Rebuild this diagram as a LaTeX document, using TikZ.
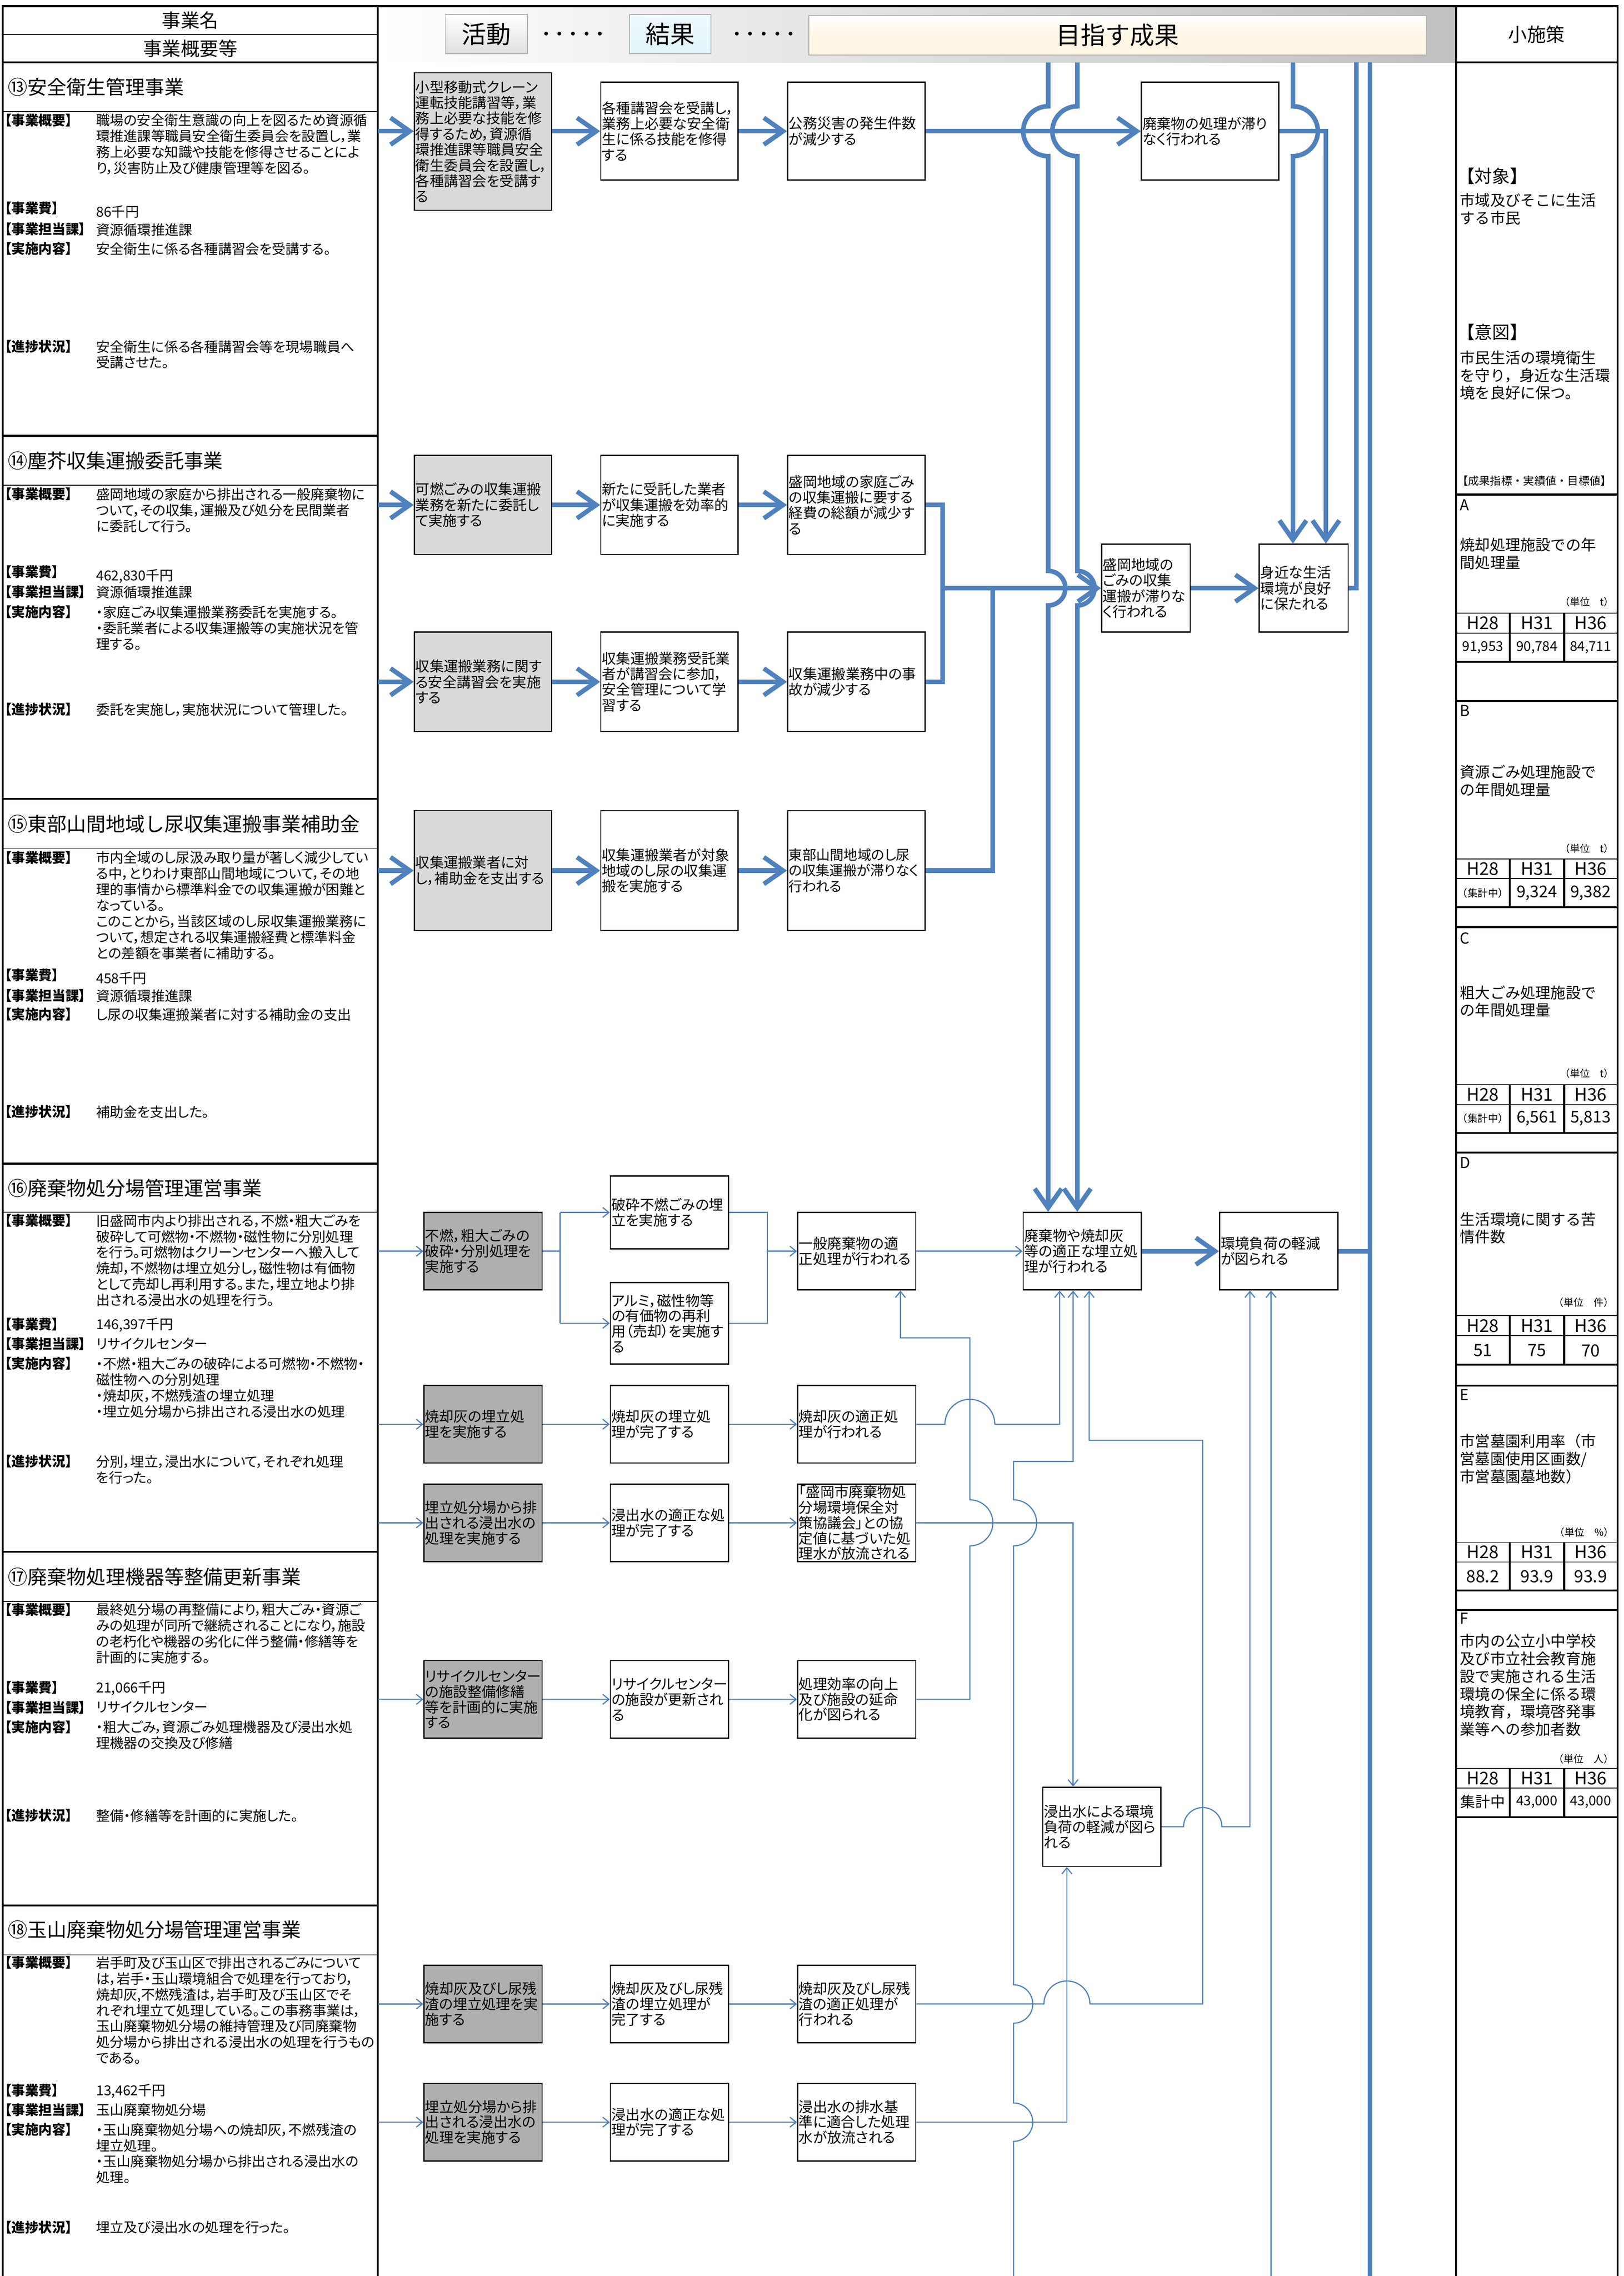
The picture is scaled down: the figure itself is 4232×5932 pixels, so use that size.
\documentclass[tikz,border=0pt]{standalone}
\usepackage{fontspec}
\setmainfont{Noto Sans CJK JP}
\newfontfamily\pfont[RawFeature=+palt]{Noto Sans CJK JP}
\usetikzlibrary{positioning,arrows.meta,calc}

\definecolor{flowblue}{RGB}{79,129,189}
\definecolor{actgray}{RGB}{217,217,217}
\definecolor{lowgray}{RGB}{175,175,175}
\definecolor{barend}{RGB}{192,192,192}
\definecolor{resblue}{RGB}{226,245,250}
\definecolor{goalcream}{RGB}{255,246,230}

\newcommand{\boxfont}{\pfont\fontsize{10.55pt}{11.6pt}\selectfont}
\newcommand{\lowfont}{\pfont\fontsize{10.6pt}{11.4pt}\selectfont}
\newcommand{\bodyfont}{\pfont\fontsize{10.2pt}{11.8pt}\selectfont}
\newcommand{\lblfont}{\pfont\fontsize{10pt}{11pt}\selectfont\bfseries}
\newcommand{\ttlfont}{\fontsize{14.5pt}{16pt}\selectfont}
\newcommand{\rcfont}{\fontsize{11.2pt}{13.1pt}\selectfont}

\begin{document}
\begin{tikzpicture}[x=0.1mm,y=-0.1mm,
  rulethick/.style={line width=1.4pt},
  hair/.style={line width=0.6pt},
  actbox/.style={draw,line width=0.9pt,fill=actgray,font=\boxfont,align=left,inner xsep=0.3mm,inner ysep=0.6mm,text width=35.2mm},
  resbox/.style={actbox,fill=white},
  lowact/.style={draw,line width=0.9pt,fill=lowgray,font=\lowfont,align=left,inner xsep=0.3mm,inner ysep=0.2mm,text width=30.2mm,minimum height=20.2mm},
  lowres/.style={lowact,fill=white},
  fatline/.style={draw=flowblue,line width=1.2mm},
  fatarrow/.style={fatline,-{Straight Barb[length=5mm,width=7mm]}},
  thinline/.style={draw=flowblue,line width=0.3mm},
  thinarrow/.style={thinline,-{Straight Barb[length=1.6mm,width=2.6mm]}},
  ttl/.style={anchor=west,font=\ttlfont,inner sep=0},
  lbl/.style={anchor=west,font=\lblfont,inner sep=0},
  body/.style={anchor=north west,font=\bodyfont,align=left,inner sep=0},
  hdr/.style={font=\fontsize{14pt}{16pt}\selectfont,inner sep=0},
  tabbox/.style={draw=black!30,line width=0.6pt,font=\fontsize{18.2pt}{20pt}\selectfont,minimum height=10.2mm,inner sep=0},
  dotrow/.style={font=\fontsize{10pt}{12pt}\selectfont\bfseries,inner sep=0},
  rctext/.style={anchor=north west,font=\rcfont,align=left,inner sep=0},
  rchead/.style={anchor=west,font=\fontsize{13.1pt}{15pt}\selectfont,inner sep=0},
  hcell/.style={font=\fontsize{13pt}{15pt}\selectfont,inner sep=0},
  vcell/.style={font=\fontsize{10pt}{12pt}\selectfont,inner sep=0},
  unitlbl/.style={anchor=east,font=\fontsize{7.4pt}{9pt}\selectfont,inner sep=0}
]
\useasboundingbox (0,0) rectangle (4232,5932);

% header band
\shade[left color=white,right color=barend] (985,16) rectangle (3795,163);
\draw[rulethick] (7,5932) -- (7,16) -- (4216,16) -- (4216,5932);
\draw[rulethick] (985,16) -- (985,5932);
\draw[rulethick] (3795,16) -- (3795,5932);
\draw[rulethick] (7,163) -- (985,163);
\draw[rulethick] (3795,163) -- (4216,163);
\draw[hair] (7,90) -- (985,90);
\foreach \y in {1136,2082,3033,4044,4966}
  \draw[rulethick] (7,\y) -- (985,\y);
\foreach \y in {291,1265,2212,3159,4174,5095}
  \draw[hair] (7,\y) -- (985,\y);

\node[hdr] (hname) at (496,53) {事業名};
\node[hdr] (hsum) at (496,127) {事業概要等};
\node[tabbox,top color=white,bottom color=black!12,minimum width=21.4mm] (tact) at (1268,89) {活動};
\node[dotrow] (dots1) at (1494,92) {・・・・・};
\node[tabbox,top color=resblue!60,bottom color=resblue,minimum width=21.3mm] (tres) at (1747,89) {結果};
\node[dotrow] (dots2) at (1991,92) {・・・・・};
\node[tabbox,top color=white,bottom color=goalcream,middle color=goalcream,minimum width=160.9mm,minimum height=10.4mm] (tgoal) at (2913,92) {目指す成果};
\node[hdr] (hsub) at (4005,90) {小施策};

% lane positions
\coordinate (top) at (0,163);
\coordinate (bot) at (0,5932);
\coordinate (lin) at (985,0);
\coordinate (xL1) at (2732,0);
\coordinate (xL2) at (2808,0);
\coordinate (xL3) at (3370,0);
\coordinate (xL4) at (3456,0);
\coordinate (xL5) at (3535,0);
\coordinate (xL6) at (3571,0);
\coordinate (xJ) at (2457,0);
\coordinate (xK) at (2587,0);
\coordinate (xB1) at (1460,0);
\coordinate (xB2) at (2000,0);
\coordinate (xA) at (2528,0);
\coordinate (xE3) at (2347,0);
\coordinate (xW) at (2762,0);
\coordinate (xI) at (2642,0);
\coordinate (xI2) at (2797,0);
\coordinate (xR) at (3135,0);
\coordinate (xI3) at (2839,0);
\coordinate (xJK) at (2781,0);
\coordinate (xE5a) at (3258,0);
\coordinate (xE5b) at (3313,0);
\coordinate (tapA) at (0,3487);
\coordinate (tapI) at (0,3809);
\coordinate (tapR) at (0,3754);

% section 13
\node[ttl] (s13) at (20,227) {⑬安全衛生管理事業};
\node[lbl] (s13k) at (12,313) {【事業概要】};
\node[body] (s13kb) at (250,296) {職場の安全衛生意識の向上を図るため資源循\\環推進課等職員安全衛生委員会を設置し，業\\務上必要な知識や技能を修得させることによ\\り，災害防止及び健康管理等を図る。};
\node[lbl] (s13h) at (12,543) {【事業費】};
\node[body] (s13hb) at (250,535) {86千円};
\node[lbl] (s13c) at (12,597) {【事業担当課】};
\node[body] (s13cb) at (250,582) {資源循環推進課};
\node[lbl] (s13j) at (12,648) {【実施内容】};
\node[body] (s13jb) at (250,631) {安全衛生に係る各種講習会を受講する。};
\node[lbl] (s13s) at (12,903) {【進捗状況】};
\node[body] (s13sb) at (250,886) {安全衛生に係る各種講習会等を現場職員へ\\受講させた。};

% section 14
\node[ttl] (s14) at (20,1201) {⑭塵芥収集運搬委託事業};
\node[lbl] (s14k) at (12,1288) {【事業概要】};
\node[body] (s14kb) at (250,1271) {盛岡地域の家庭から排出される一般廃棄物に\\ついて，その収集，運搬及び処分を民間業者\\に委託して行う。};
\node[lbl] (s14h) at (12,1491) {【事業費】};
\node[body] (s14hb) at (250,1483) {462,830千円};
\node[lbl] (s14c) at (12,1543) {【事業担当課】};
\node[body] (s14cb) at (250,1526) {資源循環推進課};
\node[lbl] (s14j) at (12,1595) {【実施内容】};
\node[body] (s14jb) at (250,1578) {・家庭ごみ収集運搬業務委託を実施する。\\・委託業者による収集運搬等の実施状況を管\\理する。};
\node[lbl] (s14s) at (12,1849) {【進捗状況】};
\node[body] (s14sb) at (250,1832) {委託を実施し，実施状況について管理した。};

% section 15
\node[ttl] (s15) at (20,2147) {⑮東部山間地域し尿収集運搬事業補助金};
\node[lbl] (s15k) at (12,2235) {【事業概要】};
\node[body] (s15kb) at (250,2218) {市内全域のし尿汲み取り量が著しく減少してい\\る中，とりわけ東部山間地域について，その地\\理的事情から標準料金での収集運搬が困難と\\なっている。\\このことから，当該区域のし尿収集運搬業務に\\ついて，想定される収集運搬経費と標準料金\\との差額を事業者に補助する。};
\node[lbl] (s15h) at (12,2541) {【事業費】};
\node[body] (s15hb) at (250,2533) {458千円};
\node[lbl] (s15c) at (12,2595) {【事業担当課】};
\node[body] (s15cb) at (250,2578) {資源循環推進課};
\node[lbl] (s15j) at (12,2644) {【実施内容】};
\node[body] (s15jb) at (250,2627) {し尿の収集運搬業者に対する補助金の支出};
\node[lbl] (s15s) at (12,2898) {【進捗状況】};
\node[body] (s15sb) at (250,2881) {補助金を支出した。};

% section 16
\node[ttl] (s16) at (20,3097) {⑯廃棄物処分場管理運営事業};
\node[lbl] (s16k) at (12,3181) {【事業概要】};
\node[body] (s16kb) at (250,3164) {旧盛岡市内より排出される，不燃・粗大ごみを\\破砕して可燃物・不燃物・磁性物に分別処理\\を行う。可燃物はクリーンセンターへ搬入して\\焼却，不燃物は埋立処分し，磁性物は有価物\\として売却し再利用する。また，埋立地より排\\出される浸出水の処理を行う。};
\node[lbl] (s16h) at (12,3451) {【事業費】};
\node[body] (s16hb) at (250,3434) {146,397千円};
\node[lbl] (s16c) at (12,3503) {【事業担当課】};
\node[body] (s16cb) at (250,3486) {リサイクルセンター};
\node[lbl] (s16j) at (12,3554) {【実施内容】};
\node[body] (s16jb) at (250,3537) {・不燃・粗大ごみの破砕による可燃物・不燃物・\\磁性物への分別処理\\・焼却灰，不燃残渣の埋立処理\\・埋立処分場から排出される浸出水の処理};
\node[lbl] (s16s) at (12,3809) {【進捗状況】};
\node[body] (s16sb) at (250,3792) {分別，埋立，浸出水について，それぞれ処理\\を行った。};

% section 17
\node[ttl] (s17) at (20,4110) {⑰廃棄物処理機器等整備更新事業};
\node[lbl] (s17k) at (12,4195) {【事業概要】};
\node[body] (s17kb) at (250,4178) {最終処分場の再整備により，粗大ごみ・資源ご\\みの処理が同所で継続されることになり，施設\\の老朽化や機器の劣化に伴う整備・修繕等を\\計画的に実施する。};
\node[lbl] (s17h) at (12,4398) {【事業費】};
\node[body] (s17hb) at (250,4381) {21,066千円};
\node[lbl] (s17c) at (12,4450) {【事業担当課】};
\node[body] (s17cb) at (250,4433) {リサイクルセンター};
\node[lbl] (s17j) at (12,4501) {【実施内容】};
\node[body] (s17jb) at (250,4484) {・粗大ごみ，資源ごみ処理機器及び浸出水処\\理機器の交換及び修繕};
\node[lbl] (s17s) at (12,4732) {【進捗状況】};
\node[body] (s17sb) at (250,4715) {整備・修繕等を計画的に実施した。};

% section 18
\node[ttl] (s18) at (20,5029) {⑱玉山廃棄物処分場管理運営事業};
\node[lbl] (s18k) at (12,5115) {【事業概要】};
\node[body] (s18kb) at (250,5098) {岩手町及び玉山区で排出されるごみについて\\は，岩手・玉山環境組合で処理を行っており，\\焼却灰,不燃残渣は，岩手町及び玉山区でそ\\れぞれ埋立て処理している。この事務事業は，\\玉山廃棄物処分場の維持管理及び同廃棄物\\処分場から排出される浸出水の処理を行うもの\\である。};
\node[lbl] (s18h) at (12,5448) {【事業費】};
\node[body] (s18hb) at (250,5431) {13,462千円};
\node[lbl] (s18c) at (12,5499) {【事業担当課】};
\node[body] (s18cb) at (250,5482) {玉山廃棄物処分場};
\node[lbl] (s18j) at (12,5550) {【実施内容】};
\node[body] (s18jb) at (250,5533) {・玉山廃棄物処分場への焼却灰，不燃残渣の\\埋立処理。\\・玉山廃棄物処分場から排出される浸出水の\\処理。};
\node[lbl] (s18s) at (12,5805) {【進捗状況】};
\node[body] (s18sb) at (250,5788) {埋立及び浸出水の処理を行った。};

% right column
\node[rchead] (tgt) at (3797,459) {【対象】};
\node[rctext] (tgtb) at (3805,503) {市域及びそこに生活\\する市民};
\node[rchead] (ito) at (3797,866) {【意図】};
\node[rctext] (itob) at (3805,913) {市民生活の環境衛生\\を守り，身近な生活環\\境を良好に保つ。};
\node[anchor=west,font=\fontsize{8.2pt}{10pt}\selectfont,inner sep=0] (kpi) at (3797,1253) {【成果指標・実績値・目標値】};
\foreach \y in {1289,1827,2416,3004,3611,4196}
  \draw[rulethick] (3795,\y) -- (4216,\y);
\foreach \t/\m/\b in {1598/1650/1725,2239/2290/2364,2827/2879/2953,3429/3481/3557,4020/4071/4145,4609/4660/4736}{
  \draw[hair] (3795,\t) -- (4216,\t);
  \draw[hair] (3795,\m) -- (4216,\m);
  \draw[rulethick] (3795,\b) -- (4216,\b);
  \draw[rulethick] (3935,\t) -- (3935,\b);
  \draw[rulethick] (4077,\t) -- (4077,\b);
  \node[hcell] (h28-\t) at (3865,{(\t+\m)/2}) {H28};
  \node[hcell] (h31-\t) at (4006,{(\t+\m)/2}) {H31};
  \node[hcell] (h36-\t) at (4146,{(\t+\m)/2}) {H36};
}
\node[rctext,anchor=west] (ka) at (3805,1316) {A};
\node[rctext] (kat) at (3805,1401) {焼却処理施設での年\\間処理量};
\node[unitlbl] (kau) at (4207,1569) {（単位　t）};
\node[vcell] (ka1) at (3865,1688) {91,953};
\node[vcell] (ka2) at (4006,1688) {90,784};
\node[vcell] (ka3) at (4146,1688) {84,711};
\node[rctext,anchor=west] (kb) at (3805,1852) {B};
\node[rctext] (kbt) at (3805,1993) {資源ごみ処理施設で\\の年間処理量};
\node[unitlbl] (kbu) at (4207,2212) {（単位　t）};
\node[font=\fontsize{7.6pt}{9pt}\selectfont,inner sep=0] (kb1) at (3865,2328) {（集計中）};
\node[vcell,font=\fontsize{12pt}{14pt}\selectfont] (kb2) at (4006,2328) {9,324};
\node[vcell,font=\fontsize{12pt}{14pt}\selectfont] (kb3) at (4146,2328) {9,382};
\node[rctext,anchor=west] (kc) at (3805,2445) {C};
\node[rctext] (kct) at (3805,2568) {粗大ごみ処理施設で\\の年間処理量};
\node[unitlbl] (kcu) at (4207,2798) {（単位　t）};
\node[font=\fontsize{7.6pt}{9pt}\selectfont,inner sep=0] (kc1) at (3865,2915) {（集計中）};
\node[vcell,font=\fontsize{12pt}{14pt}\selectfont] (kc2) at (4006,2915) {6,561};
\node[vcell,font=\fontsize{12pt}{14pt}\selectfont] (kc3) at (4146,2915) {5,813};
\node[rctext,anchor=west] (kd) at (3805,3031) {D};
\node[rctext] (kdt) at (3805,3159) {生活環境に関する苦\\情件数};
\node[unitlbl] (kdu) at (4207,3394) {（単位　件）};
\node[vcell,font=\fontsize{12.5pt}{14pt}\selectfont] (kd1) at (3865,3520) {51};
\node[vcell,font=\fontsize{12.5pt}{14pt}\selectfont] (kd2) at (4006,3520) {75};
\node[vcell,font=\fontsize{12.5pt}{14pt}\selectfont] (kd3) at (4146,3520) {70};
\node[rctext,anchor=west] (ke) at (3805,3636) {E};
\node[rctext] (ket) at (3805,3737) {市営墓園利用率（市\\営墓園使用区画数/\\市営墓園墓地数）};
\node[unitlbl] (keu) at (4207,3993) {（単位　\%）};
\node[vcell,font=\fontsize{12.5pt}{14pt}\selectfont] (ke1) at (3865,4109) {88.2};
\node[vcell,font=\fontsize{12.5pt}{14pt}\selectfont] (ke2) at (4006,4109) {93.9};
\node[vcell,font=\fontsize{12.5pt}{14pt}\selectfont] (ke3) at (4146,4109) {93.9};
\node[rctext,anchor=west] (kf) at (3805,4218) {F};
\node[rctext] (kft) at (3805,4258) {市内の公立小中学校\\及び市立社会教育施\\設で実施される生活\\環境の保全に係る環\\境教育，環境啓発事\\業等への参加者数};
\node[unitlbl] (kfu) at (4207,4584) {（単位　人）};
\node[vcell,font=\fontsize{11pt}{13pt}\selectfont] (kf1) at (3865,4696) {集計中};
\node[vcell] (kf2) at (4006,4696) {43,000};
\node[vcell] (kf3) at (4146,4696) {43,000};

% flow boxes, rows 13 to 15
\node[actbox,minimum height=35.8mm] (a1) at (1259,369) {小型移動式クレーン\\運転技能講習等，業\\務上必要な技能を修\\得するため，資源循\\環推進課等職員安全\\衛生委員会を設置し，\\各種講習会を受講す\\る};
\node[resbox,minimum height=25.5mm] (a2) at (1745,342) {各種講習会を受講し，\\業務上必要な安全衛\\生に係る技能を修得\\する};
\node[resbox,minimum height=25.5mm] (a3) at (2232,342) {公務災害の発生件数\\が減少する};
\node[resbox,minimum height=25.5mm] (a4) at (3154,342) {廃棄物の処理が滞り\\なく行われる};
\node[actbox,minimum height=25.8mm] (b1) at (1259,1316) {可燃ごみの収集運搬\\業務を新たに委託し\\て実施する};
\node[resbox,minimum height=25.8mm] (b2) at (1745,1316) {新たに受託した業者\\が収集運搬を効率的\\に実施する};
\node[resbox,minimum height=25.8mm] (b3) at (2232,1316) {盛岡地域の家庭ごみ\\の収集運搬に要する\\経費の総額が減少す\\る};
\node[actbox,minimum height=25.9mm] (c1) at (1259,1777) {収集運搬業務に関す\\る安全講習会を実施\\する};
\node[resbox,minimum height=25.9mm] (c2) at (1745,1777) {収集運搬業務受託業\\者が講習会に参加，\\安全管理について学\\習する};
\node[resbox,minimum height=25.9mm] (c3) at (2232,1777) {収集運搬業務中の事\\故が減少する};
\node[resbox,text width=22.5mm,minimum height=22.9mm] (m1) at (2987,1533) {盛岡地域の\\ごみの収集\\運搬が滞りな\\く行われる};
\node[resbox,text width=22.6mm,minimum height=22.9mm] (m2) at (3398,1533) {身近な生活\\環境が良好\\に保たれる};
\node[actbox,minimum height=31.2mm] (d1) at (1259,2269) {収集運搬業者に対\\し，補助金を支出する};
\node[resbox,minimum height=31.2mm] (d2) at (1745,2269) {収集運搬業者が対象\\地域のし尿の収集運\\搬を実施する};
\node[resbox,minimum height=31.2mm,font=\pfont\fontsize{10.2pt}{11.6pt}\selectfont] (d3) at (2232,2269) {東部山間地域のし尿\\の収集運搬が滞りなく\\行われる};

% flow boxes, rows 16 to 18
\node[lowact] (e1) at (1259,3261) {不燃，粗大ごみの\\破砕・分別処理を\\実施する};
\node[lowres,minimum height=19mm] (e2a) at (1745,3160) {破砕不燃ごみの埋\\立を実施する};
\node[lowres,minimum height=21.2mm] (e2b) at (1745,3449) {アルミ，磁性物等\\の有価物の再利\\用（売却）を実施す\\る};
\node[lowres] (e3) at (2233,3261) {一般廃棄物の適\\正処理が行われる};
\node[lowres] (e4) at (2821,3261) {廃棄物や焼却灰\\等の適正な埋立処\\理が行われる};
\node[lowres] (e5) at (3333,3261) {環境負荷の軽減\\が図られる};
\node[lowact] (f1) at (1259,3712) {焼却灰の埋立処\\理を実施する};
\node[lowres] (f2) at (1745,3712) {焼却灰の埋立処\\理が完了する};
\node[lowres] (f3) at (2233,3712) {焼却灰の適正処\\理が行われる};
\node[lowact] (g1) at (1259,3969) {埋立処分場から排\\出される浸出水の\\処理を実施する};
\node[lowres] (g2) at (1745,3969) {浸出水の適正な処\\理が完了する};
\node[lowres] (g3) at (2233,3969) {「盛岡市廃棄物処\\分場環境保全対\\策協議会」との協\\定値に基づいた処\\理水が放流される};
\node[lowact] (h1) at (1259,4429) {リサイクルセンター\\の施設整備修繕\\等を計画的に実施\\する};
\node[lowres] (h2) at (1745,4429) {リサイクルセンター\\の施設が更新され\\る};
\node[lowres] (h3) at (2233,4429) {処理効率の向上\\及び施設の延命\\化が図られる};
\node[lowres,minimum height=20.6mm] (k1) at (2872,4761) {浸出水による環境\\負荷の軽減が図ら\\れる};
\node[lowact] (i1) at (1259,5223) {焼却灰及びし尿残\\渣の埋立処理を実\\施する};
\node[lowres] (i2) at (1745,5223) {焼却灰及びし尿残\\渣の埋立処理が\\完了する};
\node[lowres] (i3) at (2233,5223) {焼却灰及びし尿残\\渣の適正処理が\\行われる};
\node[lowact] (j1) at (1259,5531) {埋立処分場から排\\出される浸出水の\\処理を実施する};
\node[lowres] (j2) at (1745,5531) {浸出水の適正な処\\理が完了する};
\node[lowres] (j3) at (2233,5531) {浸出水の排水基\\準に適合した処理\\水が放流される};

% thick connectors
\draw[fatarrow] (lin |- a2.west) -- (a1.west |- a2.west);
\foreach \n in {b1,c1,d1}
  \draw[fatarrow] (lin |- \n.west) -- (\n.west);
\foreach \p/\q in {a1/a2,a2/a3,b1/b2,b2/b3,c1/c2,c2/c3,d1/d2,d2/d3}
  \draw[fatarrow] (\p.east |- \q.west) -- (\q.west);
\draw[fatarrow] (a3.east) -- (a4.west);
\draw[fatline] (b3.east) -| (xJ |- c3.east) -- (c3.east);
\draw[fatline] (d3.east) -| (xK |- m1.west);
\draw[fatarrow] (xJ |- m1.west) -- (m1.west);
\draw[fatarrow] (m1.east) -- (m2.west);
\foreach \l in {xL1,xL2}
  \draw[fatarrow] (\l |- top) -- ($(\l |- a4.west)+(0,-65)$) arc[start angle=90,end angle=270,radius=6.5mm]
    -- ($(\l |- m1.west)+(0,-45)$) arc[start angle=90,end angle=-90,radius=4.5mm] -- (\l |- e4.north);
\draw[fatarrow] (xL3 |- top) -- ($(xL3 |- a4.east)+(0,-65)$) arc[start angle=90,end angle=-90,radius=6.5mm] -- (xL3 |- m2.north);
\draw[fatarrow] (a4.east) -| (xL4 |- m2.north);
\draw[fatline] (m2.east) -| (xL5 |- top);
\draw[fatline] (xL6 |- top) -- (xL6 |- bot);
\draw[fatarrow] (e4.east) -- (e5.west);
\draw[fatline] (e5.east) -- (xL6 |- e5.east);

% thin connectors
\foreach \n in {e1,f1,g1,h1,i1,j1}
  \draw[thinarrow] (lin |- \n.west) -- (\n.west);
\foreach \p/\q in {f1/f2,f2/f3,g1/g2,g2/g3,h1/h2,h2/h3,i1/i2,i2/i3,j1/j2,j2/j3,e3/e4}
  \draw[thinarrow] (\p.east |- \q.west) -- (\q.west);
\draw[thinline] (e1.east) -- (xB1 |- e1.east);
\draw[thinline] (xB1 |- e2a.west) -- (xB1 |- e2b.west);
\draw[thinarrow] (xB1 |- e2a.west) -- (e2a.west);
\draw[thinarrow] (xB1 |- e2b.west) -- (e2b.west);
\draw[thinline] (e2a.east) -| (xB2 |- e2b.east) -- (e2b.east);
\draw[thinarrow] (xB2 |- e3.west) -- (e3.west);
% ash and leachate flows
\draw[thinarrow] (h3.east) -- (xA |- h3.east) -- ($(xA |- g3.east)+(0,60)$) arc[start angle=-90,end angle=90,radius=6mm]
  -- (xA |- tapA) -- (xE3 |- tapA) -- (xE3 |- e3.south);
\draw[thinarrow] (f3.east) -- ($(xA |- f3.east)+(-65,0)$) arc[start angle=180,end angle=0,radius=6.5mm]
  -- (xW |- f3.east) -- (xW |- e4.south);
\draw[thinarrow] (g3.east) -| (xI2 |- k1.north);
\draw[thinarrow] (xI |- bot) -- ($(xI |- j3.east)+(0,50)$) arc[start angle=-90,end angle=90,radius=5mm]
  -- ($(xI |- i3.east)+(0,50)$) arc[start angle=-90,end angle=90,radius=5mm]
  -- ($(xI |- g3.east)+(0,60)$) arc[start angle=-90,end angle=90,radius=6mm]
  -- (xI |- tapI) -- (xI2 |- tapI) -- (xI2 |- e4.south);
\draw[thinarrow] (i3.east) -- ($(xJK |- i3.east)+(-60,0)$) arc[start angle=180,end angle=0,radius=6mm]
  -- (xR |- i3.east) -- (xR |- tapR) -- (xI3 |- tapR) -- (xI3 |- e4.south);
\draw[thinarrow] (j3.east) -| (xJK |- k1.south);
\draw[thinarrow] (k1.east) -- ($(xR |- k1.east)+(-50,0)$) arc[start angle=180,end angle=0,radius=5mm]
  -- (xE5a |- k1.east) -- (xE5a |- e5.south);
\draw[thinarrow] (xE5b |- bot) -- (xE5b |- e5.south);
\end{tikzpicture}
\end{document}
